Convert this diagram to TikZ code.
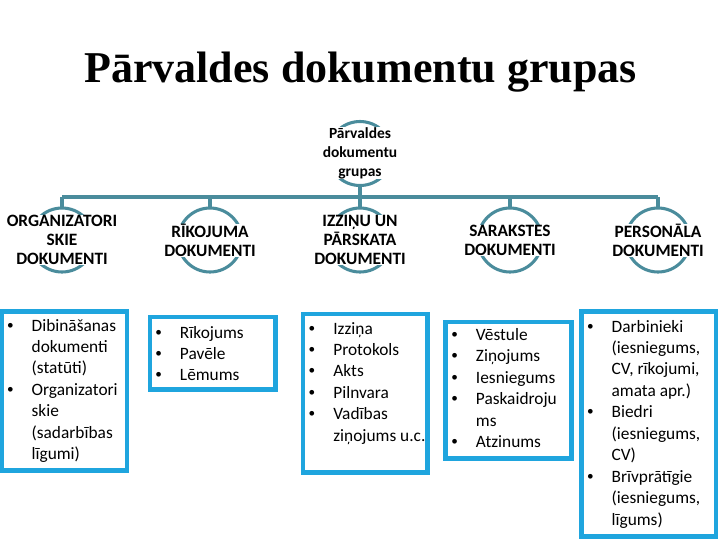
\documentclass[tikz,border=0pt]{standalone}
\usepackage{fontspec}
\setmainfont{Carlito}
\newfontfamily\titlefont{Liberation Serif}
\newfontfamily\bulfont{Liberation Sans}
\definecolor{circ}{HTML}{4A8C9C}
\definecolor{boxc}{HTML}{1FA5DE}
\newcommand{\bl}{{\bulfont •}}
\newcommand{\lst}[1]{\begin{tabular}[t]{@{}p{18.3pt}@{}l@{}}#1\end{tabular}}
\begin{document}
\begin{tikzpicture}[x=0.75pt,y=-0.75pt,
  ring/.style={draw=circ,line width=2.3pt},
  conn/.style={draw=circ,line width=2.3pt},
  hdr/.style={fill=white,inner sep=0.5pt,align=center,font=\fontsize{13}{14.25}\selectfont\bfseries},
  rootlbl/.style={fill=white,inner sep=0pt,align=center,font=\fontsize{11.6}{14.25}\selectfont\bfseries},
  listbox/.style={draw=boxc,line width=3.3pt},
  listtxt/.style={anchor=base west,inner sep=0pt,font=\fontsize{13}{16.1}\selectfont}]
\useasboundingbox (0,0) rectangle (720,540);

% title
\node[anchor=base,inner sep=0pt,font=\titlefont\bfseries\fontsize{33}{36}\selectfont] (title) at (360.5,82) {Pārvaldes dokumentu grupas};

% circles
\draw[ring] (360,153.5) circle[radius=32];
\foreach \cx/\nm in {62/c1,210/c2,360/c3,510/c4,658/c5}{
  \draw[ring] (\cx,240) circle[radius=32];
  \coordinate (\nm top) at (\cx,208);
}
\coordinate (rootbot) at (360,185.5);
\coordinate (busL) at (62,197);
\coordinate (busR) at (658,197);
\coordinate (busM) at (360,197);
\draw[conn] (busL) -- (busR);
\draw[conn] (rootbot) -- (busM);
\foreach \cx/\nm in {62/c1,210/c2,360/c3,510/c4,658/c5}{
  \draw[conn] (\cx,197) -- (\nm top);
}

% labels
\node[rootlbl] (root) at (360,153) {Pārvaldes\\dokumentu\\grupas};
\node[hdr] (h1) at (62,240) {ORGANIZATORI\\SKIE\\DOKUMENTI};
\node[hdr] (h2) at (210,240.5) {RĪKOJUMA\\DOKUMENTI};
\node[hdr] (h3) at (360,240) {IZZIŅU UN\\PĀRSKATA\\DOKUMENTI};
\node[hdr] (h4) at (510,240.5) {SARAKSTES\\DOKUMENTI};
\node[hdr] (h5) at (658,240.5) {PERSONĀLA\\DOKUMENTI};

% boxes
\draw[listbox] (2,311.5) rectangle (127,470.5);
\draw[listbox] (150,317) rectangle (275.5,389.5);
\draw[listbox] (303,314) rectangle (427.5,472.5);
\draw[listbox] (445.5,322) rectangle (571.5,458.5);
\draw[listbox] (581.5,311.5) rectangle (716,536.5);

\node[listtxt] (t1) at (7,331) {\lst{\bl&Dibināšanas\\&dokumenti\\&(statūti)\\\bl&Organizatori\\&skie\\&(sadarbības\\&līgumi)}};
\node[listtxt] (t2) at (155.3,338) {\lst{\bl&Rīkojums\\\bl&Pavēle\\\bl&Lēmums}};
\node[listtxt] (t3) at (308.7,334) {\lst{\bl&Izziņa\\\bl&Protokols\\\bl&Akts\\\bl&Pilnvara\\\bl&Vadības\\&ziņojums u.c.}};
\node[listtxt] (t4) at (451.3,340.5) {\lst{\bl&Vēstule\\\bl&Ziņojums\\\bl&Iesniegums\\\bl&Paskaidroju\\&ms\\\bl&Atzinums}};
\node[listtxt] (t5) at (587,332) {\lst{\bl&Darbinieki\\&(iesniegums,\\&CV, rīkojumi,\\&amata apr.)\\\bl&Biedri\\&(iesniegums,\\&CV)\\\bl&Brīvprātīgie\\&(iesniegums,\\&līgums)}};
\end{tikzpicture}
\end{document}
